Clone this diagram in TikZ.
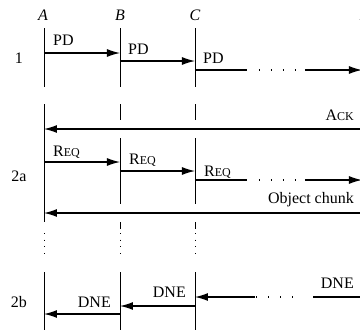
\documentclass[tikz,border=0pt]{standalone}
\usepackage{fontspec}
\setmainfont{Liberation Serif}
\usetikzlibrary{arrows.meta}
\newcommand{\mysc}[2]{#1{\fontsize{12}{13}\selectfont #2}}
\begin{document}
\begin{tikzpicture}[x=1pt,y=-1pt,
  font=\fontsize{16}{19}\selectfont,
  life/.style={line width=0.8pt},
  lifedots/.style={line width=0.9pt, dash pattern=on 1pt off 5.7pt},
  msg/.style={line width=1.2pt, -{Latex[length=13pt,width=8pt]}},
  seg/.style={line width=1.2pt},
  msgdots/.style={line width=1.1pt, dash pattern=on 1.1pt off 10.9pt},
  lblw/.style={inner sep=0pt, anchor=base west},
  lble/.style={inner sep=0pt, anchor=base east},
  head/.style={inner sep=0pt, anchor=base, font=\fontsize{16}{19}\selectfont\itshape},
  rowlbl/.style={inner sep=0pt, anchor=base}]
\useasboundingbox (0,0) rectangle (360,330);
\clip (0,0) rectangle (360,330);
% lifeline x positions
\coordinate (la) at (44,0);
\coordinate (lb) at (120,0);
\coordinate (lc) at (195,0);
\coordinate (lz) at (362,0);
% headers
\node[head] (hA) at (43,20) {A};
\node[head] (hB) at (120,20) {B};
\node[head] (hC) at (195,20) {C};
\node[head] (hZ) at (364,20) {Z};
% row labels
\node[rowlbl] (r1) at (19,63) {1};
\node[rowlbl] (r2a) at (19,181) {2a};
\node[rowlbl] (r2b) at (19,307) {2b};
% lifelines row 1
\foreach \l in {la,lb,lc,lz} \draw[life] (\l|-0,28) -- (\l|-0,87);
% lifelines row 2a
\draw[life] (la|-0,104) -- (la|-0,222);
\foreach \l in {lb,lc,lz} {
  \draw[life] (\l|-0,104) -- (\l|-0,120);
  \draw[life] (\l|-0,138) -- (\l|-0,204);
  \draw[life] (\l|-0,222) -- (\l|-0,229);
}
% dotted continuation
\foreach \l in {la,lb,lc} \draw[lifedots] (\l|-0,233) -- (\l|-0,256);
% lifelines row 2b
\foreach \l in {la,lb,lc,lz} \draw[life] (\l|-0,272) -- (\l|-0,340);
% row 1 messages
\draw[msg] (la|-0,53) -- (lb|-0,53);
\node[lblw] (p1) at (53,45) {PD};
\draw[msg] (lb|-0,61) -- (lc|-0,61);
\node[lblw] (p2) at (128,54) {PD};
\coordinate (g1a) at (247,70);
\coordinate (d1a) at (259,70);
\coordinate (d1b) at (296,70);
\coordinate (g1b) at (305,70);
\draw[seg] (lc|-0,70) -- (g1a);
\draw[msgdots] (d1a) -- (d1b);
\draw[msg] (g1b) -- (lz|-0,70);
\node[lblw] (p3) at (203,63) {PD};
% row 2a messages
\draw[msg] (lz|-0,129) -- (la|-0,129);
\node[lble] (ack) at (354,120) {\mysc{A}{CK}};
\draw[msg] (la|-0,162) -- (lb|-0,162);
\node[lblw] (q1) at (53,156) {\mysc{R}{EQ}};
\draw[msg] (lb|-0,171) -- (lc|-0,171);
\node[lblw] (q2) at (129,164) {\mysc{R}{EQ}};
\coordinate (g2a) at (247,180);
\coordinate (d2a) at (259,180);
\coordinate (d2b) at (296,180);
\coordinate (g2b) at (305,180);
\draw[seg] (lc|-0,180) -- (g2a);
\draw[msgdots] (d2a) -- (d2b);
\draw[msg] (g2b) -- (lz|-0,180);
\node[lblw] (q3) at (204,176) {\mysc{R}{EQ}};
\draw[msg] (lz|-0,213) -- (la|-0,213);
\node[lble] (obj) at (354,203) {Object chunk};
% row 2b messages
\coordinate (g3a) at (313,297);
\coordinate (d3a) at (293,297);
\coordinate (d3b) at (256,297);
\coordinate (g3b) at (255,297);
\draw[seg] (lz|-0,297) -- (g3a);
\draw[msgdots] (d3a) -- (d3b);
\draw[msg] (g3b) -- (lc|-0,297);
\node[lble] (n1) at (354,288) {DNE};
\draw[msg] (lc|-0,306) -- (lb|-0,306);
\node[lble] (n2) at (186,297) {DNE};
\draw[msg] (lb|-0,314) -- (la|-0,314);
\node[lble] (n3) at (111,307) {DNE};
\end{tikzpicture}
\end{document}
